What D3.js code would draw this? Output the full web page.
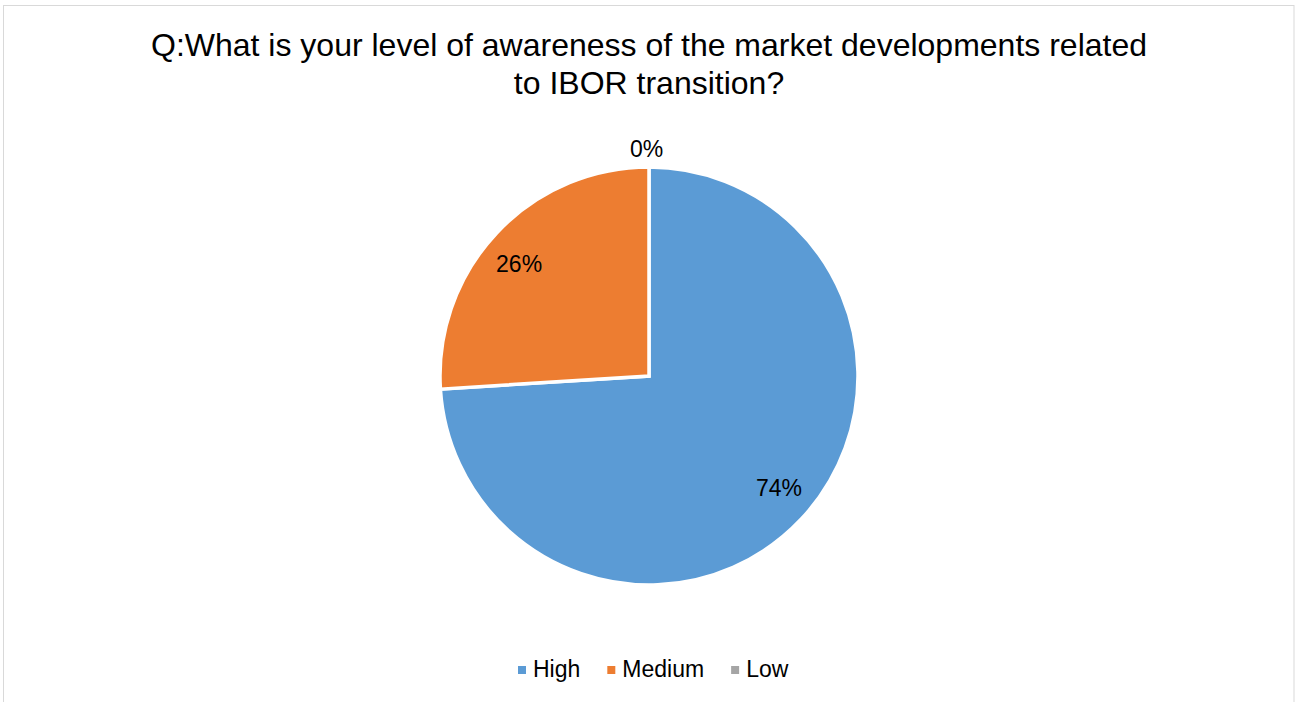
<!DOCTYPE html>
<html>
<head>
<meta charset="utf-8">
<script src="https://cdn.jsdelivr.net/npm/d3@7"></script>
<style>
  html, body { margin: 0; padding: 0; background: #fff; }
  svg { display: block; }
  text { font-family: "Liberation Sans", Arial, sans-serif; fill: #000; }
</style>
</head>
<body>
<svg id="chart" width="1295" height="702"></svg>
<script>
// Survey answers and their shares (percent)
const categories = ["High", "Medium", "Low"];
const shares = [74, 26, 0];
const colors = ["#5B9BD5", "#ED7D31", "#A5A5A5"];
const titleLines = [
  "Q:What is your level of awareness of the market developments related",
  "to IBOR transition?"
];

const W = 1295, H = 702;
const svg = d3.select("#chart");

// chart area frame
svg.append("rect")
  .attr("x", 3.5).attr("y", 5.5)
  .attr("width", W - 4.5).attr("height", H + 10)
  .attr("fill", "#fff")
  .attr("stroke", "#D9D9D9").attr("stroke-width", 1);

// title
const title = svg.append("text")
  .attr("text-anchor", "middle")
  .style("font-size", "32px");
titleLines.forEach((line, i) => {
  title.append("tspan")
    .attr("x", 649)
    .attr("y", 56 + i * 37.7)
    .text(line);
});

// pie
const cx = 649, cy = 376, r = 209;
const data = categories.map((c, i) => ({ name: c, value: shares[i], color: colors[i] }));

const pie = d3.pie().sort(null).value(d => d.value);
const arcs = pie(data);
const arc = d3.arc().innerRadius(0).outerRadius(r);

// label anchor: along the slice's mid angle, nudged slightly counter-clockwise
function labelPos(d) {
  const inside = d.data.value > 0;
  const rad = inside ? r * 0.82 : r + 18;
  const a = (d.startAngle + d.endAngle) / 2 - (inside ? 2.5 * Math.PI / 180 : 0);
  const p = [rad * Math.sin(a), -rad * Math.cos(a)];
  if (!inside) p[0] -= 2.5;
  return p;
}

const g = svg.append("g").attr("transform", `translate(${cx},${cy})`);

g.selectAll("path.slice")
  .data(arcs.filter(a => a.data.value > 0))
  .join("path")
  .attr("class", "slice")
  .attr("d", arc)
  .attr("fill", d => d.data.color)
  .attr("stroke", "#fff")
  .attr("stroke-width", 3.5)
  .attr("stroke-linejoin", "miter");

// data labels: inside for real slices, just outside for empty ones
g.selectAll("text.lbl")
  .data(arcs)
  .join("text")
  .attr("class", "lbl")
  .attr("text-anchor", "middle")
  .attr("dominant-baseline", "central")
  .style("font-size", "23px")
  .attr("transform", d => {
    const p = labelPos(d);
    return `translate(${p[0]},${p[1]})`;
  })
  .text(d => d3.format(".0f")(d.data.value) + "%");

// legend
const legend = svg.append("g");
const items = legend.selectAll("g.item").data(data).join("g").attr("class", "item");
items.append("rect")
  .attr("width", 8).attr("height", 8)
  .attr("y", -11)
  .attr("fill", d => d.color);
items.append("text")
  .attr("x", 15)
  .style("font-size", "23px")
  .text(d => d.name);

let x = 0;
const gap = 27;
items.each(function () {
  const node = d3.select(this);
  node.attr("transform", `translate(${x},0)`);
  x += this.getBBox().width + gap;
});
const totalW = x - gap;
legend.attr("transform", `translate(${518},677)`);
</script>
</body>
</html>
